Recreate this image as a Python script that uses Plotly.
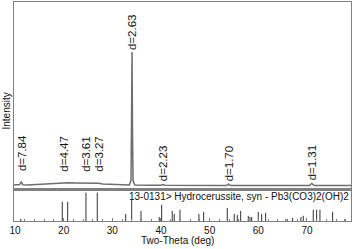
import plotly.graph_objects as go

# Measured XRD trace (2-theta in deg, intensity in arbitrary counts)
two_theta = [9.8, 10.5, 11.0, 11.28, 11.6, 12.5, 14, 16, 18, 19.9, 21, 22.5, 24.0, 24.6,
             25.2, 26.5, 27.2, 28, 30, 32, 33.5, 33.85, 33.97, 34.06, 34.15, 34.27, 34.6,
             36, 38, 40.0, 40.4, 40.8, 43, 46, 50, 53.5, 53.9, 54.3, 58, 62, 66, 70.5,
             71.0, 71.5, 74, 77, 79.05]
intensity = [21, 21, 24, 40, 23, 22, 24, 27, 30, 33, 33, 32, 31, 34,
             30, 29, 31, 27, 24, 22, 22, 45, 300, 733, 300, 45, 22,
             20, 20, 20, 24, 20, 20, 19, 19, 19, 26, 19, 19, 19, 19, 19,
             30, 19, 19, 19, 19]

# Peak labels
peak_pos = [11.35, 19.9, 24.45, 27.1, 34.06, 40.4, 54.0, 71.0]
peak_label_y = [88, 88, 88, 88, 738, 36, 36, 40]
peak_d = ["7.84", "4.47", "3.61", "3.27", "2.63", "2.23", "1.70", "1.31"]

# Reference pattern 13-0131 (stick positions and relative intensities)
ref_pos = [11.2, 19.72, 20.83, 24.59, 26.91, 32.75, 33.98, 35.89, 39.65, 40.14, 42.32,
           42.73, 43.9, 47.8, 48.77, 53.62, 55.06, 55.68, 56.38, 57.94, 58.29, 58.63,
           59.99, 60.69, 61.51, 65.68, 67.06, 68.76, 69.24, 71.29, 71.99, 72.67, 75.28, 77.8]
ref_int = [7, 63, 63, 93, 93, 23, 70, 33, 13, 53, 33,
           23, 37, 23, 30, 43, 23, 20, 33, 17, 13, 13,
           30, 23, 27, 7, 10, 13, 17, 37, 37, 37, 30, 7]
ref_name = "13-0131> Hydrocerussite, syn - Pb3(CO3)2(OH)2"

x_ticks = [10, 20, 30, 40, 50, 60, 70]
x_range = [9.8, 79.05]

FONT = "Liberation Sans, Arial, sans-serif"
LINE = "#808080"
TXT = "#111111"

fig = go.Figure()
fig.add_trace(go.Scatter(x=two_theta, y=intensity, mode="lines",
                         line=dict(color="#6e6e6e", width=1.5),
                         xaxis="x", yaxis="y", hoverinfo="skip"))

sx, sy = [], []
for p, v in zip(ref_pos, ref_int):
    sx += [p, p, None]
    sy += [0, v, None]
fig.add_trace(go.Scatter(x=sx, y=sy, mode="lines",
                         line=dict(color="#333333", width=1),
                         xaxis="x2", yaxis="y2", hoverinfo="skip"))

PW, PH = 337.0, 219.0
ann = []
for p, yv, d in zip(peak_pos, peak_label_y, peak_d):
    ann.append(dict(x=p, y=yv, xref="x", yref="y", text="d=" + d, showarrow=False,
                    textangle=-90, xanchor="center", yanchor="bottom",
                    font=dict(family=FONT, size=11.5, color=TXT), borderpad=0))
ann.append(dict(x=1, y=1, xref="paper", yref="y2 domain", text=ref_name, showarrow=False,
                xanchor="right", yanchor="top", xshift=-1, yshift=-1,
                font=dict(family=FONT, size=10, color=TXT), borderpad=0))
ann.append(dict(x=-8 / PW, y=0.5, xref="paper", yref="paper", text="Intensity",
                showarrow=False, textangle=-90, xanchor="center", yanchor="middle",
                font=dict(family=FONT, size=10, color=TXT)))
ann.append(dict(x=0.485, y=-19 / PH, xref="paper", yref="paper", text="Two-Theta (deg)",
                showarrow=False, xanchor="center", yanchor="middle",
                font=dict(family=FONT, size=10, color=TXT)))

split = (221 - 189) / PH
fig.update_layout(
    width=355, height=249,
    margin=dict(l=14, r=4, t=2, b=28, autoexpand=False),
    paper_bgcolor="white", plot_bgcolor="white",
    showlegend=False,
    font=dict(family=FONT, size=10, color=TXT),
    xaxis=dict(domain=[0, 1], anchor="y", range=x_range, matches="x2",
               showticklabels=False, ticks="", showgrid=False, zeroline=False,
               showline=True, mirror=True, linecolor=LINE, linewidth=1.5),
    yaxis=dict(domain=[split, 1], anchor="x", range=[0, 1000], showticklabels=False,
               ticks="", showgrid=False, zeroline=False,
               showline=True, mirror=True, linecolor=LINE, linewidth=1),
    xaxis2=dict(domain=[0, 1], anchor="y2", range=x_range,
                tickmode="array", tickvals=x_ticks, ticktext=[str(t) for t in x_ticks],
                ticks="inside", ticklen=3, tickcolor=LINE,
                minor=dict(dtick=2, tick0=10, ticks="inside", ticklen=2, tickcolor=LINE),
                showgrid=False, zeroline=False, automargin=False,
                showline=True, mirror=True, linecolor=LINE, linewidth=1,
                tickfont=dict(family=FONT, size=10, color=TXT)),
    yaxis2=dict(domain=[0, split], anchor="x2", range=[0, 105], showticklabels=False,
                ticks="", showgrid=False, zeroline=False,
                showline=True, mirror=True, linecolor=LINE, linewidth=1),
    annotations=ann,
)

fig.write_html("out.html", config={"displayModeBar": False, "staticPlot": True},
               post_script="document.body.style.margin='0';document.body.style.overflow='hidden';")
